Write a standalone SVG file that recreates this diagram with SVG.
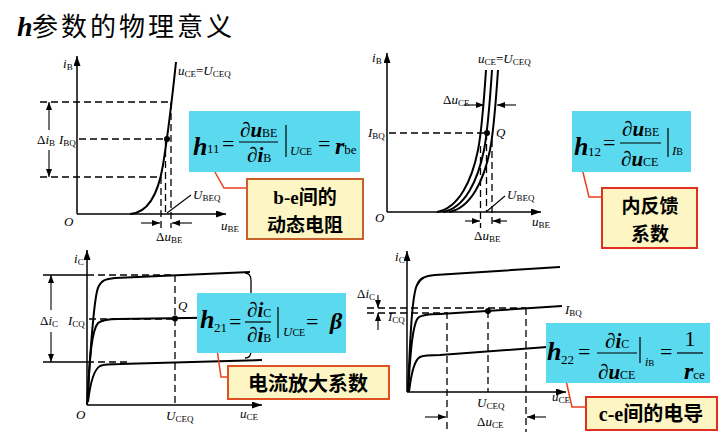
<svg xmlns="http://www.w3.org/2000/svg" width="727" height="441" viewBox="0 0 727 441">
<style>
.ax{stroke:#000;stroke-width:1.5;fill:none}
.cv{stroke:#000;stroke-width:2;fill:none}
.ds{stroke:#000;stroke-width:1.3;fill:none;stroke-dasharray:7 4}
.ln{stroke:#000;stroke-width:1.1;fill:none}
.ti{font-family:"Liberation Serif",serif;font-size:13px;font-style:italic;fill:#000}
.s{font-size:9px;font-style:normal}
.fm{font-family:"Liberation Serif",serif;fill:#000}
.b{font-weight:bold;font-style:italic}
.cy{fill:#5bd9ef}
.cl{fill:#fdf6c4;stroke-width:2}
.cn{font-family:"Noto Sans CJK SC",sans-serif;font-weight:bold;font-size:20px;fill:#000}
.cn2{font-family:"Noto Sans CJK SC",sans-serif;font-weight:bold;font-size:19px;fill:#000}
.lat{font-family:"Liberation Serif",serif;font-weight:bold}
.ld{stroke:#e8401c;stroke-width:1.5;fill:none}
.bar{stroke:#000;stroke-width:1.2}
</style>
<defs>
<marker id="ah" viewBox="0 0 8 6" refX="8" refY="3" markerWidth="8" markerHeight="6" markerUnits="userSpaceOnUse" orient="auto"><path d="M0,0 L8,3 L0,6 z" fill="#000"/></marker>
<marker id="axh" viewBox="0 0 10 7" refX="10" refY="3.5" markerWidth="10" markerHeight="7" markerUnits="userSpaceOnUse" orient="auto"><path d="M0,0 L10,3.5 L0,7 z" fill="#000"/></marker>
</defs>
<rect width="727" height="441" fill="#fff"/>

<g id="title">
<text x="17" y="36" style="font-family:'Liberation Serif',serif;font-size:28px;font-weight:bold;font-style:italic">h</text>
<text x="32" y="36" style="font-family:'Noto Sans CJK SC',sans-serif;font-size:26px;letter-spacing:3px">参数的物理意义</text>
</g>

<!-- Top-left: input characteristic -->
<g id="chart-h11">
<line class="ax" x1="77" y1="214" x2="77" y2="56" marker-end="url(#axh)"/>
<line class="ax" x1="77" y1="214" x2="226" y2="214" marker-end="url(#axh)"/>
<line class="ds" x1="40" y1="102" x2="172" y2="102"/>
<line class="ds" x1="79" y1="139" x2="167" y2="139"/>
<line class="ds" x1="40" y1="177" x2="161" y2="177"/>
<line class="ds" x1="161" y1="177" x2="161" y2="228"/>
<line class="ds" x1="165.5" y1="139" x2="165.5" y2="214"/>
<line class="ds" x1="171" y1="102" x2="171" y2="228"/>
<path class="cv" d="M130,214 C148,213 158,195 163,165 C167,140 172,100 176,62"/>
<circle cx="167" cy="139" r="3" fill="#000"/>
<line class="ln" x1="49" y1="130" x2="49" y2="102" marker-end="url(#ah)"/>
<line class="ln" x1="49" y1="150" x2="49" y2="177" marker-end="url(#ah)"/>
<line class="ln" x1="141" y1="223" x2="160" y2="223" marker-end="url(#ah)"/>
<line class="ln" x1="192" y1="223" x2="172" y2="223" marker-end="url(#ah)"/>
<line class="ln" x1="191" y1="195" x2="167" y2="213"/>
<text class="ti" x="63" y="68">i<tspan class="s" dy="2">B</tspan></text>
<text class="ti" x="64" y="226">O</text>
<text class="ti" x="221" y="230">u<tspan class="s" dy="2">BE</tspan></text>
<text class="ti" x="178" y="75">u<tspan class="s" dy="2">CE</tspan><tspan dy="-2" style="font-style:normal">=</tspan>U<tspan class="s" dy="2">CEQ</tspan></text>
<text class="ti" x="193" y="199">U<tspan class="s" dy="2">BEQ</tspan></text>
<text class="ti" x="156" y="241"><tspan style="font-style:normal">Δ</tspan>u<tspan class="s" dy="2">BE</tspan></text>
<text class="ti" x="37" y="144"><tspan style="font-style:normal">Δ</tspan>i<tspan class="s" dy="2">B</tspan></text>
<text class="ti" x="59" y="144">I<tspan class="s" dy="2">BQ</tspan></text>
</g>

<!-- Top-right -->
<g id="chart-h12">
<line class="ax" x1="387" y1="212" x2="387" y2="53" marker-end="url(#axh)"/>
<line class="ax" x1="387" y1="212" x2="541" y2="212" marker-end="url(#axh)"/>
<line class="ds" x1="389" y1="133" x2="487" y2="133"/>
<line class="ds" x1="480.5" y1="146" x2="480.5" y2="228"/>
<line class="ds" x1="486.5" y1="133" x2="486.5" y2="212"/>
<line class="ds" x1="492" y1="140" x2="492" y2="228"/>
<path class="cv" d="M437,212 C459,208 472,180 478,150 C482,130 484,100 486,70"/>
<path class="cv" d="M443,212 C465,208 478,180 484,150 C488,130 490,100 492,70"/>
<path class="cv" d="M449,212 C471,208 484,180 490,150 C494,130 496,100 498,70"/>
<circle cx="487" cy="133" r="3" fill="#000"/>
<line class="ln" x1="464" y1="105" x2="484" y2="105" marker-end="url(#ah)"/>
<line class="ln" x1="516" y1="105" x2="497" y2="105" marker-end="url(#ah)"/>
<line class="ln" x1="465" y1="221" x2="480" y2="221" marker-end="url(#ah)"/>
<line class="ln" x1="507" y1="221" x2="492.5" y2="221" marker-end="url(#ah)"/>
<line class="ln" x1="505" y1="196" x2="486" y2="212"/>
<text class="ti" x="372" y="62">i<tspan class="s" dy="2">B</tspan></text>
<text class="ti" x="375" y="222">O</text>
<text class="ti" x="532" y="226">u<tspan class="s" dy="2">BE</tspan></text>
<text class="ti" x="478" y="63">u<tspan class="s" dy="2">CE</tspan><tspan dy="-2" style="font-style:normal">=</tspan>U<tspan class="s" dy="2">CEQ</tspan></text>
<text class="ti" x="443" y="104"><tspan style="font-style:normal">Δ</tspan>u<tspan class="s" dy="2">CE</tspan></text>
<text class="ti" x="368" y="137">I<tspan class="s" dy="2">BQ</tspan></text>
<text class="ti" x="496" y="137">Q</text>
<text class="ti" x="507" y="199">U<tspan class="s" dy="2">BEQ</tspan></text>
<text class="ti" x="474" y="240"><tspan style="font-style:normal">Δ</tspan>u<tspan class="s" dy="2">BE</tspan></text>
</g>

<!-- Bottom-left: output characteristic -->
<g id="chart-h21">
<line class="ax" x1="87" y1="405" x2="87" y2="250" marker-end="url(#axh)"/>
<line class="ax" x1="87" y1="405" x2="262" y2="405" marker-end="url(#axh)"/>
<line class="ln" x1="43" y1="275" x2="87" y2="275" style="stroke-width:1.3"/>
<line class="ds" x1="87" y1="275" x2="175" y2="275"/>
<line class="ln" x1="43" y1="362" x2="87" y2="362" style="stroke-width:1.3"/>
<line class="ds" x1="87" y1="362" x2="130" y2="362"/>
<line class="ds" x1="89" y1="319" x2="175" y2="319"/>
<line class="ds" x1="175" y1="275" x2="175" y2="405"/>
<path class="cv" d="M87,405 C90,360 93,300 98,288 C101,280 106,279 115,278 L250,272"/>
<path class="cv" d="M88,400 C89,360 92,330 98,323 C102,320 108,319 118,319 L256,317"/>
<path class="cv" d="M88,402 C90,385 93,370 100,366 C104,364 110,364 120,364 L262,360"/>
<path class="ln" style="stroke-width:1.3" d="M245,273 Q251,273 251,281 L251,351 Q251,358 245,358"/>
<circle cx="175" cy="318.5" r="3" fill="#000"/>
<line class="ln" x1="51" y1="310" x2="51" y2="275" marker-end="url(#ah)"/>
<line class="ln" x1="51" y1="332" x2="51" y2="362" marker-end="url(#ah)"/>
<text class="ti" x="74" y="263">i<tspan class="s" dy="2">C</tspan></text>
<text class="ti" x="76" y="419">O</text>
<text class="ti" x="166" y="420">U<tspan class="s" dy="2">CEQ</tspan></text>
<text class="ti" x="240" y="418">u<tspan class="s" dy="2">CE</tspan></text>
<text class="ti" x="178" y="310">Q</text>
<text class="ti" x="40" y="325"><tspan style="font-style:normal">Δ</tspan>i<tspan class="s" dy="2">C</tspan></text>
<text class="ti" x="68" y="325">I<tspan class="s" dy="2">CQ</tspan></text>
</g>

<!-- Bottom-right -->
<g id="chart-h22">
<line class="ax" x1="407" y1="392" x2="407" y2="251" marker-end="url(#axh)"/>
<line class="ax" x1="407" y1="392" x2="566" y2="392" marker-end="url(#axh)"/>
<line class="ds" x1="367" y1="308" x2="526" y2="308"/>
<line class="ds" x1="367" y1="313" x2="447" y2="313"/>
<line class="ds" x1="447" y1="312" x2="447" y2="432"/>
<line class="ds" x1="488" y1="311" x2="488" y2="392"/>
<line class="ds" x1="526" y1="308" x2="526" y2="432"/>
<path class="cv" d="M408,392 C410,340 412,295 417,285 C420,278 425,276 435,275 L560,267"/>
<path class="cv" d="M408,392 C410,360 412,325 418,318 C421,315 427,314 440,314 L562,306"/>
<path class="cv" d="M409,392 C411,375 414,360 420,357 C424,355 430,355 440,355 L560,346"/>
<circle cx="488" cy="311" r="3" fill="#000"/>
<line class="ln" x1="378" y1="295" x2="378" y2="308" marker-end="url(#ah)"/>
<line class="ln" x1="378" y1="330" x2="378" y2="313" marker-end="url(#ah)"/>
<line class="ln" x1="425" y1="417" x2="446" y2="417" marker-end="url(#ah)"/>
<line class="ln" x1="546" y1="417" x2="527" y2="417" marker-end="url(#ah)"/>
<text class="ti" x="395" y="261">i<tspan class="s" dy="2">C</tspan></text>
<text class="ti" x="357" y="298"><tspan style="font-style:normal">Δ</tspan>i<tspan class="s" dy="2">C</tspan></text>
<text class="ti" x="388" y="321">I<tspan class="s" dy="2">CQ</tspan></text>
<text class="ti" x="565" y="314">I<tspan class="s" dy="2">BQ</tspan></text>
<text class="ti" x="477" y="407">U<tspan class="s" dy="2">CEQ</tspan></text>
<text class="ti" x="552" y="401">u<tspan class="s" dy="2">CE</tspan></text>
<text class="ti" x="477" y="426"><tspan style="font-style:normal">Δ</tspan>u<tspan class="s" dy="2">CE</tspan></text>
</g>

<g id="connectors">
<polyline class="ld" points="207,158 224,188 247,188"/>
<polyline class="ld" points="580,160 589,197 602,197"/>
<polyline class="ld" points="216,342 221,377 228,377"/>
<polyline class="ld" points="565,376 572,407 586,407"/>
</g>

<g id="formula-h11">
<rect class="cy" x="189" y="111" width="171" height="61"/>
<text class="fm b" x="193" y="155" font-size="26">h</text>
<text class="fm" x="207" y="153" font-size="13">11</text>
<text class="fm" x="222" y="151" font-size="22">=</text>
<text class="fm" x="240" y="137" font-size="21"><tspan font-weight="bold">∂</tspan><tspan class="b">u</tspan><tspan font-size="12">BE</tspan></text>
<line class="bar" x1="239" y1="142" x2="278" y2="142"/>
<text class="fm" x="247" y="162" font-size="21"><tspan font-weight="bold">∂</tspan><tspan class="b">i</tspan><tspan font-size="12">B</tspan></text>
<line class="bar" x1="286" y1="125" x2="286" y2="157"/>
<text class="fm" x="290" y="155" font-size="13" font-style="italic">U<tspan font-size="10" font-style="normal">CE</tspan></text>
<text class="fm" x="318" y="151" font-size="22">=</text>
<text class="fm" x="335" y="154" font-size="24"><tspan class="b">r</tspan><tspan font-size="13">be</tspan></text>
</g>

<g id="callout-h11">
<rect class="cl" x="247" y="179" width="116" height="60" stroke="#c8602a"/>
<text class="cn2" x="305" y="204" text-anchor="middle"><tspan class="lat">b-e</tspan>间的</text>
<text class="cn2" x="305" y="232" text-anchor="middle">动态电阻</text>
</g>

<g id="formula-h12">
<rect class="cy" x="572" y="111" width="119" height="61"/>
<text class="fm b" x="574" y="155" font-size="26">h</text>
<text class="fm" x="588" y="156" font-size="13">12</text>
<text class="fm" x="603" y="150" font-size="22">=</text>
<text class="fm" x="622" y="136" font-size="21"><tspan font-weight="bold">∂</tspan><tspan class="b">u</tspan><tspan font-size="12">BE</tspan></text>
<line class="bar" x1="620" y1="143" x2="661" y2="143"/>
<text class="fm" x="621" y="166" font-size="21"><tspan font-weight="bold">∂</tspan><tspan class="b">u</tspan><tspan font-size="12">CE</tspan></text>
<line class="bar" x1="668" y1="128" x2="668" y2="157"/>
<text class="fm" x="672" y="155" font-size="13" font-style="italic">I<tspan font-size="10" font-style="normal">B</tspan></text>
</g>

<g id="callout-h12">
<rect class="cl" x="602" y="188" width="95" height="60" stroke="#e03020"/>
<text class="cn2" x="650" y="213" text-anchor="middle">内反馈</text>
<text class="cn2" x="650" y="241" text-anchor="middle">系数</text>
</g>

<g id="formula-h21">
<rect class="cy" x="197" y="293" width="149" height="60"/>
<text class="fm b" x="200" y="328" font-size="26">h</text>
<text class="fm" x="214" y="332" font-size="13">21</text>
<text class="fm" x="229" y="329" font-size="22">=</text>
<text class="fm" x="247" y="317" font-size="21"><tspan font-weight="bold">∂</tspan><tspan class="b">i</tspan><tspan font-size="12">C</tspan></text>
<line class="bar" x1="245" y1="322" x2="271" y2="322"/>
<text class="fm" x="247" y="342" font-size="21"><tspan font-weight="bold">∂</tspan><tspan class="b">i</tspan><tspan font-size="12">B</tspan></text>
<line class="bar" x1="278" y1="307" x2="278" y2="338"/>
<text class="fm" x="283" y="336" font-size="13" font-style="italic">U<tspan font-size="10" font-style="normal">CE</tspan></text>
<text class="fm" x="306" y="329" font-size="22">=</text>
<text class="fm b" x="330" y="329" font-size="24">β</text>
</g>

<g id="callout-h21">
<rect class="cl" x="228" y="366" width="161" height="33" stroke="#e05020"/>
<text class="cn" x="308" y="391" text-anchor="middle">电流放大系数</text>
</g>

<g id="formula-h22">
<rect class="cy" x="546" y="323" width="164" height="60"/>
<text class="fm b" x="547" y="360" font-size="26">h</text>
<text class="fm" x="561" y="364" font-size="13">22</text>
<text class="fm" x="578" y="359" font-size="22">=</text>
<text class="fm" x="605" y="348" font-size="21"><tspan font-weight="bold">∂</tspan><tspan class="b">i</tspan><tspan font-size="12">C</tspan></text>
<line class="bar" x1="597" y1="353" x2="637" y2="353"/>
<text class="fm" x="598" y="379" font-size="21"><tspan font-weight="bold">∂</tspan><tspan class="b">u</tspan><tspan font-size="12">CE</tspan></text>
<line class="bar" x1="640" y1="337" x2="640" y2="363"/>
<text class="fm" x="645" y="366" font-size="12" font-style="italic">i<tspan font-size="9" font-style="normal">B</tspan></text>
<text class="fm" x="660" y="359" font-size="22">=</text>
<text class="fm" x="690" y="346" font-size="22" text-anchor="middle">1</text>
<line class="bar" x1="677" y1="353" x2="703" y2="353"/>
<text class="fm" x="684" y="379" font-size="24"><tspan class="b">r</tspan><tspan font-size="13">ce</tspan></text>
</g>

<g id="callout-h22">
<rect class="cl" x="586" y="397" width="131" height="33" stroke="#e03020"/>
<text class="cn" x="651" y="421" text-anchor="middle"><tspan class="lat">c-e</tspan>间的电导</text>
</g>
</svg>
